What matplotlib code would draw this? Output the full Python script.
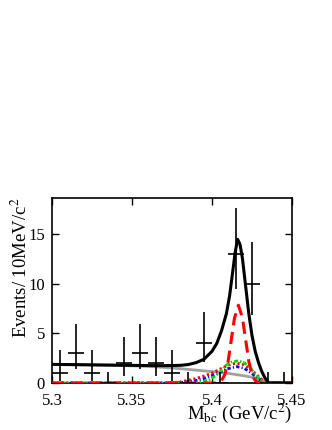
import numpy as np
import matplotlib
matplotlib.use('Agg')
import matplotlib.pyplot as plt

plt.rcParams['font.family'] = ['Liberation Serif', 'DejaVu Serif']
plt.rcParams['mathtext.fontset'] = 'stix'

# ── Data ──────────────────────────────────────────────────────────────────────
bin_centers = [5.305, 5.315, 5.325, 5.335, 5.345, 5.355, 5.365, 5.375,
               5.385, 5.395, 5.405, 5.415, 5.425, 5.435, 5.445]
counts      = [1, 3, 1, 0, 2, 3, 2, 1, 0, 4, 0, 13, 10, 0, 0]
err_lo      = [0.83, 1.63, 0.83, 0.0, 1.29, 1.63, 1.29, 0.83,
               0.0, 1.91, 0.0, 3.56, 3.11, 0.0, 0.0]
err_hi      = [2.30, 2.92, 2.30, 1.15, 2.64, 2.92, 2.64, 2.30,
               1.15, 3.16, 1.15, 4.67, 4.27, 1.15, 1.15]

# total fit (black)
tot_x = [5.300, 5.320, 5.340, 5.360, 5.370, 5.380, 5.385, 5.390, 5.395, 5.400,
         5.403, 5.406, 5.409, 5.411, 5.413, 5.4145, 5.416, 5.4175, 5.419, 5.421,
         5.423, 5.425, 5.427, 5.429, 5.431, 5.433, 5.435, 5.436, 5.450]
tot_y = [1.88, 1.84, 1.80, 1.76, 1.75, 1.78, 1.86, 2.05, 2.40, 3.20,
         4.00, 5.30, 7.00, 8.80, 11.3, 13.2, 14.5, 14.0, 12.6, 9.80,
         7.00, 4.80, 3.20, 2.10, 1.20, 0.55, 0.10, 0.0, 0.0]

# combinatorial background (grey)
bkg_x = [5.300, 5.320, 5.340, 5.360, 5.370, 5.380, 5.390, 5.400, 5.410,
         5.420, 5.425, 5.430, 5.434, 5.436, 5.450]
bkg_y = [1.88, 1.84, 1.78, 1.68, 1.58, 1.45, 1.30, 1.15, 0.97,
         0.73, 0.58, 0.38, 0.15, 0.0, 0.0]

# signal (red dashed)
sig_x = [5.300, 5.404, 5.406, 5.408, 5.410, 5.412, 5.414, 5.4165, 5.419,
         5.421, 5.423, 5.425, 5.427, 5.430, 5.450]
sig_y = [0.0, 0.0, 0.25, 0.85, 2.1, 4.3, 6.5, 7.85, 6.6,
         4.4, 2.2, 0.85, 0.25, 0.0, 0.0]

# red dotted component
rd_x = [5.300, 5.370, 5.380, 5.390, 5.395, 5.400, 5.405, 5.410, 5.415,
        5.420, 5.425, 5.430, 5.434, 5.436, 5.450]
rd_y = [0.0, 0.0, 0.1, 0.45, 0.70, 1.00, 1.40, 1.80, 2.00,
        1.85, 1.30, 0.50, 0.05, 0.0, 0.0]

# green dash-dot component
gr_x = [5.300, 5.390, 5.398, 5.403, 5.406, 5.409, 5.412, 5.4165, 5.420,
        5.423, 5.426, 5.429, 5.432, 5.434, 5.450]
gr_y = [0.0, 0.0, 0.3, 0.8, 1.3, 1.8, 2.1, 2.25, 2.05,
        1.7, 1.1, 0.55, 0.15, 0.0, 0.0]

# blue dotted component
bl_x = [5.300, 5.370, 5.380, 5.390, 5.395, 5.400, 5.405, 5.410, 5.4155,
        5.420, 5.425, 5.429, 5.432, 5.434, 5.450]
bl_y = [0.0, 0.0, 0.05, 0.25, 0.45, 0.75, 1.10, 1.45, 1.65,
        1.50, 0.95, 0.45, 0.12, 0.0, 0.0]

# ── Figure ────────────────────────────────────────────────────────────────────
fig = plt.figure(figsize=(3.32, 4.30), dpi=100)
ax = fig.add_axes([52/332, 47/430, 240/332, 185/430])

ax.plot(bkg_x, bkg_y, color='#a0a0a0', lw=2.0, zorder=3)
ax.plot(bl_x, bl_y, color='#0000ff', lw=2.0, ls=(0, (1.2, 0.8, 0.4, 0.8)), zorder=4)
ax.plot(rd_x, rd_y, color='#ff0000', lw=2.0, ls=(0, (0.8, 0.9)), zorder=4)
ax.plot(gr_x, gr_y, color='#00dd00', lw=2.0, ls=(0, (1.5, 0.7, 0.5, 0.7)), zorder=4)
ax.plot(sig_x, sig_y, color='#ff0000', lw=2.2, ls=(0, (4, 2.2)), zorder=5)
ax.plot(tot_x, tot_y, color='black', lw=2.2, zorder=6)

ax.errorbar(bin_centers, counts, yerr=[err_lo, err_hi], xerr=0.005,
            fmt='none', ecolor='black', elinewidth=1.2, capsize=0, zorder=7)

ax.set_xlim(5.3, 5.45)
ax.set_ylim(0, 18.67)
ax.set_xticks([5.3, 5.35, 5.4, 5.45])
ax.set_xticklabels(['5.3', '5.35', '5.4', '5.45'])
ax.set_yticks([0, 5, 10, 15])
ax.tick_params(direction='in', length=5, width=1, labelsize=12,
               top=True, right=True, pad=5)
ax.tick_params(axis='x', pad=7)
for s in ax.spines.values():
    s.set_linewidth(1.2)

ax.text(-0.13, 1.0, 'Events/ 10MeV/c$^2$', transform=ax.transAxes,
        rotation=90, ha='center', va='top', fontsize=13.5)
ax.text(1.0, -0.195, 'M$_{\\rm bc}$ (GeV/c$^2$)', transform=ax.transAxes,
        ha='right', va='baseline', fontsize=13.5)

fig.savefig('out.png', dpi=100)
